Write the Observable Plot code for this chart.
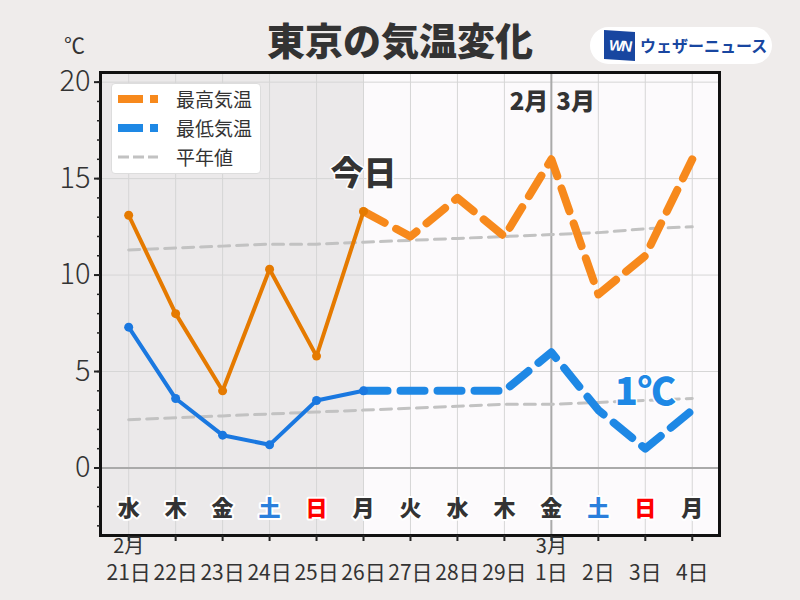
<!DOCTYPE html>
<html><head><meta charset="utf-8">
<script src="https://cdn.jsdelivr.net/npm/d3@7"></script>
<script src="https://cdn.jsdelivr.net/npm/@observablehq/plot@0.6"></script>
<style>
body{margin:0;background:#efeceb;font-family:"Noto Sans CJK JP","Noto Sans",sans-serif;}
#wrap{position:relative;width:800px;height:600px;overflow:hidden;}
#chart{position:absolute;left:0;top:0;}
#title{position:absolute;left:0;width:800px;top:14px;text-align:center;font-size:38px;font-weight:900;color:#333;line-height:50px;}
#unit{position:absolute;left:64px;top:30px;font-size:21px;color:#333;line-height:28px;}
#logo{position:absolute;left:590px;top:27px;width:182px;height:37px;background:#fff;border-radius:19px;}
#wn{position:absolute;left:14px;top:4px;width:31px;height:29px;background:#1846a0;color:#fff;font:italic bold 15px "Liberation Sans",sans-serif;line-height:29px;text-align:center;letter-spacing:-2px;transform:skewY(4deg);}
#wtxt{position:absolute;left:50px;top:5px;font-size:16px;font-weight:bold;color:#1846a0;line-height:27px;}
#legend{position:absolute;left:111px;top:83px;width:150px;height:91px;background:#fff;border:1px solid #ddd;border-radius:4px;box-sizing:border-box;}
.row{position:absolute;left:6px;height:29px;display:flex;align-items:center;font-size:19px;color:#333;}
.row svg{margin-right:16px;}
</style></head>
<body>
<div id="wrap">
  <div id="chart"></div>
  <div id="title">東京の気温変化</div>
  <div id="unit">℃</div>
  <div id="logo"><div id="wn">WN</div><div id="wtxt">ウェザーニュース</div></div>
  <div id="legend">
    <div class="row" style="top:0px"><svg width="42" height="10"><line x1="0" y1="5" x2="25" y2="5" stroke="#f7891c" stroke-width="8"/><line x1="32" y1="5" x2="40" y2="5" stroke="#f7891c" stroke-width="8"/></svg>最高気温</div>
    <div class="row" style="top:29px"><svg width="42" height="10"><line x1="0" y1="5" x2="25" y2="5" stroke="#1e88e5" stroke-width="8"/><line x1="32" y1="5" x2="40" y2="5" stroke="#1e88e5" stroke-width="8"/></svg>最低気温</div>
    <div class="row" style="top:58px"><svg width="42" height="10"><line x1="0" y1="5" x2="40" y2="5" stroke="#c2c2c2" stroke-width="3" stroke-dasharray="11,4"/></svg>平年値</div>
  </div>
</div>
<script>
// categories
const dayLabels = ["21日","22日","23日","24日","25日","26日","27日","28日","29日","1日","2日","3日","4日"];
const weekdays = ["水","木","金","土","日","月","火","水","木","金","土","日","月"];
const monthLabels = ["2月", "", "", "", "", "", "", "", "", "3月", "", "", ""];
// series (observed: 21日–26日, forecast: 26日–4日)
const maxObserved = [13.1, 8.0, 4.0, 10.3, 5.8, 13.3];
const maxForecast = [13.3, 12, 14, 12, 16, 9, 11, 16];
const minObserved = [7.3, 3.6, 1.7, 1.2, 3.5, 4.0];
const minForecast = [4.0, 4, 4, 4, 6, 3, 1, 3];
const normalMax = [11.3, 11.4, 11.5, 11.6, 11.6, 11.7, 11.8, 11.9, 12.0, 12.1, 12.2, 12.4, 12.5];
const normalMin = [2.5, 2.6, 2.7, 2.8, 2.9, 3.0, 3.1, 3.2, 3.3, 3.3, 3.4, 3.5, 3.6];
const yTicks = [0, 5, 10, 15, 20];
const todayIndex = 5;
const monthStartIndex = 9;
const forecastStart = 5;
const annotations = [
  {i: 5, t: 15.2, text: "今日", color: "#333", size: 33},
  {i: 11, t: 3.9, text: "1℃", color: "#1e88e5", size: 38}
];

const dayColor = d => d === "土" ? "#2a7fdc" : d === "日" ? "#ff0000" : "#333";
const idx = d3.range(dayLabels.length);

const chart = Plot.plot({
  width: 800, height: 600,
  marginLeft: 100, marginRight: 81, marginTop: 72, marginBottom: 65,
  style: {background: "transparent", fontFamily: "'Noto Sans CJK JP', 'Noto Sans', sans-serif", color: "#333"},
  x: {domain: [-0.6, 12.58], axis: null},
  y: {domain: [-3.5, 20.5], axis: null},
  color: {type: "identity"},
  marks: [
    Plot.rectX([0], {x1: -0.6, x2: todayIndex, y1: -3.5, y2: 20.5, fill: "#ebe9ea"}),
    Plot.rectX([0], {x1: todayIndex, x2: 12.58, y1: -3.5, y2: 20.5, fill: "#fcfafc"}),
    Plot.ruleX(idx, {x: d => d, stroke: "#d6d6d6", strokeWidth: 1}),
    Plot.ruleY(yTicks.filter(d => d !== 0), {y: d => d, stroke: "#d6d6d6", strokeWidth: 1}),
    Plot.ruleY([0], {y: d => d, stroke: "#aaaaaa", strokeWidth: 2}),
    Plot.ruleX([monthStartIndex], {x: d => d, stroke: "#aaaaaa", strokeWidth: 2}),
    Plot.line(normalMax, {x: (d, i) => i, y: d => d, stroke: "#c2c2c2", strokeWidth: 3, strokeDasharray: "11,7"}),
    Plot.line(normalMin, {x: (d, i) => i, y: d => d, stroke: "#c2c2c2", strokeWidth: 3, strokeDasharray: "11,7"}),
    Plot.line(maxForecast, {x: (d, i) => i + forecastStart, y: d => d, stroke: "#f7891c", strokeWidth: 8, strokeDasharray: "24,13", strokeLinejoin: "round"}),
    Plot.line(minForecast, {x: (d, i) => i + forecastStart, y: d => d, stroke: "#1e88e5", strokeWidth: 8, strokeDasharray: "24,13", strokeLinejoin: "round"}),
    Plot.line(maxObserved, {x: (d, i) => i, y: d => d, stroke: "#e57a00", strokeWidth: 4}),
    Plot.dot(maxObserved, {x: (d, i) => i, y: d => d, r: 4.5, fill: "#e57a00"}),
    Plot.line(minObserved, {x: (d, i) => i, y: d => d, stroke: "#1a78e0", strokeWidth: 4}),
    Plot.dot(minObserved, {x: (d, i) => i, y: d => d, r: 4.5, fill: "#1a78e0"}),
    Plot.text(weekdays, {x: (d, i) => i, text: d => d, frameAnchor: "bottom", dy: -20, fontSize: 22, fontWeight: 900, fill: d => dayColor(d), stroke: "#fff", strokeWidth: 4}),
    Plot.text(["2月"], {x: monthStartIndex, text: d => d, frameAnchor: "top", dy: 20, dx: -3, textAnchor: "end", fontSize: 24, fontWeight: 900, fill: "#333"}),
    Plot.text(["3月"], {x: monthStartIndex, text: d => d, frameAnchor: "top", dy: 20, dx: 5, textAnchor: "start", fontSize: 24, fontWeight: 900, fill: "#333"}),
    Plot.text(annotations, {x: "i", y: "t", text: "text", fill: "color", fontSize: d => d.size, fontWeight: 900, stroke: "#fff", strokeWidth: 3}),
    Plot.frame({stroke: "#111", strokeWidth: 3}),
    Plot.axisX(idx, {x: d => d, label: null, tickFormat: i => dayLabels[i], tickSize: 6, tickPadding: 24, fontSize: 21, stroke: "#222", strokeWidth: 2, fill: "#333"}),
    Plot.text(monthLabels, {x: (d, i) => i, text: d => d, frameAnchor: "bottom", dy: 17, fontSize: 20, fill: "#333"}),
    Plot.axisY(yTicks, {y: d => d, label: null, tickSize: 6, tickPadding: 4, fontSize: 29, stroke: "#222", strokeWidth: 2, fill: "#333", fontWeight: 300}),
    Plot.axisY(d3.range(-3, 21), {y: d => d, label: null, tickSize: 3, tickFormat: () => "", stroke: "#222", strokeWidth: 1.5})
  ]
});
document.getElementById("chart").appendChild(chart);
</script>
</body></html>
